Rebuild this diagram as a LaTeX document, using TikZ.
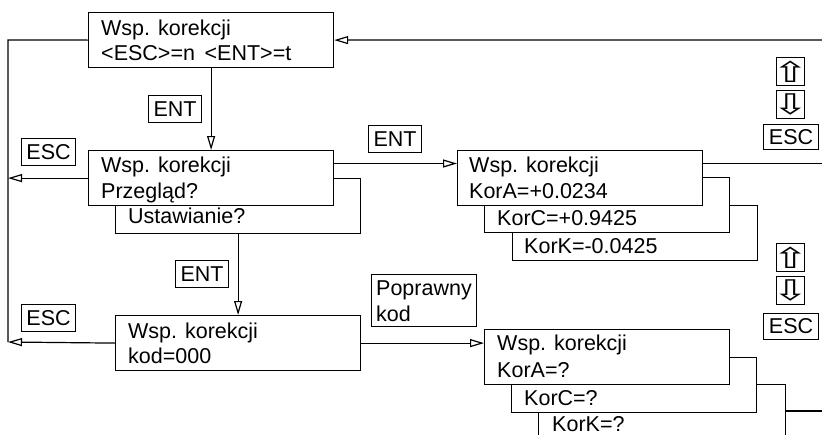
\documentclass[tikz,border=0pt]{standalone}
\usepackage{fontspec}
\setmainfont{Liberation Sans}
\newfontfamily\symfont{DejaVu Sans}
\usetikzlibrary{arrows.meta}
\tikzset{
  box/.style={draw, line width=1.2pt, fill=white, inner sep=0pt, rectangle, anchor=north west},
  big/.style={box, minimum width=245pt, minimum height=55pt},
  lbl/.style={draw, line width=1.1pt, inner sep=0pt, anchor=north west, font=\fontsize{21.5}{24}\selectfont},
  txt/.style={anchor=base west, inner sep=0pt, font=\fontsize{21.5}{25}\selectfont},
  symbox/.style={draw, line width=1.1pt, inner sep=0pt, anchor=north west, minimum width=28pt, minimum height=28pt},
  symglyph/.style={inner sep=0pt, anchor=center, font=\symfont\fontsize{30}{32}\selectfont},
  conn/.style={line width=1.2pt},
  arr/.style={line width=1.2pt, -{Triangle[open,length=14pt,width=8pt,line width=1.2pt]}}
}
\newcommand{\upsym}{\scalebox{1.45}[0.95]{⇧}}
\newcommand{\dnsym}{\scalebox{1.45}[0.95]{⇩}}
\begin{document}
\begin{tikzpicture}[x=1pt,y=-1pt]
\useasboundingbox (0,0) rectangle (822,434);
\clip (0,0) rectangle (822,434);
% top box
\node[big] (A) at (88,12) {};
\node[txt] (At1) at (101,35) {Wsp. korekcji};
\node[txt] (At2) at (101,60) {<ESC>=n\hspace{0.45em}<ENT>=t};
% second group
\node[big] (Bb) at (115,178) {};
\node[txt] (Bbt) at (128,223) {Ustawianie?};
\node[big] (B) at (88,150) {};
\node[txt] (Bt1) at (101,172) {Wsp. korekcji};
\node[txt] (Bt2) at (101,198) {Przegląd?};
% kod box
\node[big] (C) at (115,315) {};
\node[txt] (Ct1) at (128,338) {Wsp. korekcji};
\node[txt] (Ct2) at (128,363) {kod=000};
% top right group
\node[big] (E3) at (512,205) {};
\node[txt] (E3t) at (524,253) {KorK=-0.0425};
\node[big] (E2) at (484,177) {};
\node[txt] (E2t) at (497,225) {KorC=+0.9425};
\node[big] (E) at (457,150) {};
\node[txt] (Et1) at (469,172) {Wsp. korekcji};
\node[txt] (Et2) at (469,198) {KorA=+0.0234};
% bottom right group
\node[box, minimum width=247pt, minimum height=80pt] (D3) at (538,384) {};
\node[txt] (D3t) at (552,431) {KorK=?};
\node[big] (D2) at (511,357) {};
\node[txt] (D2t) at (524,405) {KorC=?};
\node[big] (D) at (484,329) {};
\node[txt] (Dt1) at (497,350) {Wsp. korekcji};
\node[txt] (Dt2) at (497,377) {KorA=?};
% labels
\node[lbl, minimum width=53pt, minimum height=27pt] (ent1) at (148,95) {ENT};
\node[lbl, minimum width=54pt, minimum height=27pt] (esc1) at (21,138) {ESC};
\node[lbl, minimum width=53pt, minimum height=27pt] (ent2) at (175,260) {ENT};
\node[lbl, minimum width=54pt, minimum height=27pt] (esc2) at (21,304) {ESC};
\node[lbl, minimum width=53pt, minimum height=27pt] (ent3) at (368,125) {ENT};
\node[box, line width=1.1pt, minimum width=105pt, minimum height=52pt] (pk) at (371,274) {};
\node[txt] (pkt1) at (376,295) {Poprawny};
\node[txt] (pkt2) at (376,321) {kod};
% right keys
\node[symbox] (up1) at (776,57) {};
\node[symglyph] (up1g) at (up1.center) {\upsym};
\node[symbox] (dn1) at (776,90) {};
\node[symglyph] (dn1g) at (dn1.center) {\dnsym};
\node[lbl, minimum width=55pt, minimum height=25pt] (esc3) at (763,124) {ESC};
\node[symbox] (up2) at (776,243) {};
\node[symglyph] (up2g) at (up2.center) {\upsym};
\node[symbox] (dn2) at (776,276) {};
\node[symglyph] (dn2g) at (dn2.center) {\dnsym};
\node[lbl, minimum width=55pt, minimum height=26pt] (esc4) at (763,313) {ESC};
% coordinates
\coordinate (Lt) at (8,40);
\coordinate (Lb) at (8,342);
\coordinate (Rt) at (822,40);
\coordinate (Rm) at (822,164);
\coordinate (Rb) at (822,411);
\coordinate (Bo) at ([yshift=-13.5pt]B.north east);
\coordinate (Eo) at ([yshift=-13.5pt]E.north east);
% connectors
\draw[conn] (A.west) -- (Lt) -- (Lb);
\draw[arr] (Rt) -- (A.east);
\draw[arr] (A.south) -- (B.north);
\draw[arr] (B.west) -- (B.west -| Lt);
\draw[arr] (Bb.south) -- (C.north);
\draw[arr] (C.west) -- (Lb);
\draw[arr] (Bo) -- (Bo -| E.west);
\draw[conn] (Eo) -- (Eo -| Rm);
\draw[arr] (C.east) -- (C.east -| D.west);
\draw[conn] (D3.north east |- Rb) -- (Rb);
\end{tikzpicture}
\end{document}
